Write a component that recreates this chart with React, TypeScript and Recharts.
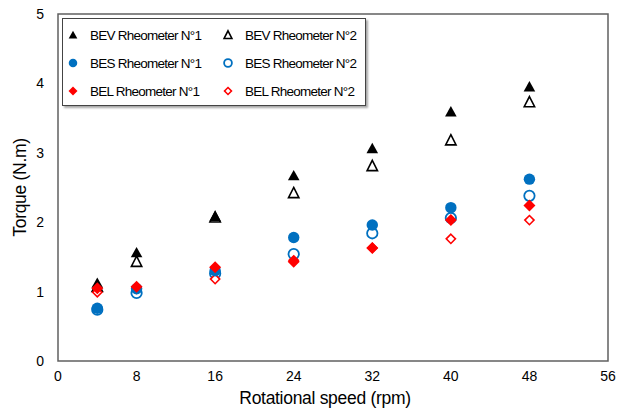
import { ScatterChart, Scatter, XAxis, YAxis, ReferenceArea } from 'recharts'

// rotational speed (rpm) for every series
const speeds = [4, 8, 16, 24, 32, 40, 48]
const bev1 = [1.12, 1.56, 2.08, 2.67, 3.06, 3.59, 3.95]
const bev2 = [1.07, 1.43, 2.07, 2.42, 2.81, 3.18, 3.73]
const bes1 = [0.76, 1.04, 1.3, 1.78, 1.96, 2.21, 2.62]
const bes2 = [0.74, 0.98, 1.26, 1.54, 1.84, 2.06, 2.38]
const bel1 = [1.05, 1.07, 1.35, 1.43, 1.63, 2.03, 2.24]
const bel2 = [0.99, 1.04, 1.18, 1.45, 1.63, 1.76, 2.03]
const xTicks = [0, 8, 16, 24, 32, 40, 48, 56]
const yTicks = [0, 1, 2, 3, 4, 5]

const FONT = '"Liberation Sans", Arial, sans-serif'
const BLUE = '#0070C0'
const RED = '#FF0000'

type Kind = 'tri' | 'circle' | 'diamond'

interface SeriesDef {
  name: string
  values: number[]
  kind: Kind
  color: string
  filled: boolean
}

const series: SeriesDef[] = [
  { name: 'BEV Rheometer N\u00B01', values: bev1, kind: 'tri', color: '#000', filled: true },
  { name: 'BEV Rheometer N\u00B02', values: bev2, kind: 'tri', color: '#000', filled: false },
  { name: 'BES Rheometer N\u00B01', values: bes1, kind: 'circle', color: BLUE, filled: true },
  { name: 'BES Rheometer N\u00B02', values: bes2, kind: 'circle', color: BLUE, filled: false },
  { name: 'BEL Rheometer N\u00B01', values: bel1, kind: 'diamond', color: RED, filled: true },
  { name: 'BEL Rheometer N\u00B02', values: bel2, kind: 'diamond', color: RED, filled: false },
]

// hollow markers sit underneath the filled ones
const drawOrder = [...series.filter(s => !s.filled), ...series.filter(s => s.filled)]

function Marker({ cx, cy, kind, color, filled, scale = 1 }: { cx: number; cy: number; kind: Kind; color: string; filled: boolean; scale?: number }) {
  const fill = filled ? color : '#fff'
  const sw = filled ? 0 : 1.6
  if (kind === 'tri') {
    const up = (filled ? 5.8 : 5.6) * scale
    const down = 4.6 * scale
    const w = (filled ? 5.8 : 5.2) * scale
    return <path d={`M${cx},${cy - up} L${cx + w},${cy + down} L${cx - w},${cy + down} Z`} fill={fill} stroke={color} strokeWidth={sw} />
  }
  if (kind === 'circle') {
    return <circle cx={cx} cy={cy} r={(filled ? 5.7 : 5.2) * scale} fill={fill} stroke={color} strokeWidth={filled ? 0 : 1.8} />
  }
  const r = (filled ? 6 : 4.6) * scale
  return <path d={`M${cx},${cy - r} L${cx + r},${cy} L${cx},${cy + r} L${cx - r},${cy} Z`} fill={fill} stroke={color} strokeWidth={sw} />
}

function LegendBox() {
  return (
    <div style={{
      position: 'absolute', left: 62, top: 18,
      border: '1px solid #444', background: '#fff', boxShadow: '2px 2px 2px rgba(0,0,0,0.35)',
      width: 304, height: 88, boxSizing: 'border-box', fontFamily: FONT, fontSize: 13.5, color: '#000',
      letterSpacing: -0.75, whiteSpace: 'nowrap',
      display: 'grid', gridTemplateColumns: '156px 146px', gridAutoRows: 28, paddingTop: 2,
    }}>
      {series.map(s => (
        <div key={s.name} style={{ display: 'flex', alignItems: 'center' }}>
          <svg width={24} height={20} style={{ marginLeft: s.filled ? 0 : -4 }}>
            <Marker cx={s.filled ? 10 : 13} cy={10} kind={s.kind} color={s.color} filled={s.filled} scale={0.75} />
          </svg>
          <span style={{ marginLeft: s.filled ? 3 : 6 }}>{s.name}</span>
        </div>
      ))}
    </div>
  )
}

export default function App() {
  return (
    <div style={{ position: 'absolute', left: 0, top: 0, width: 626, height: 410, background: '#fff' }}>
      <ScatterChart width={626} height={410} margin={{ top: 14, right: 18, bottom: 0, left: 0 }}>
        <XAxis
          type="number"
          dataKey="x"
          domain={[0, 56]}
          ticks={xTicks}
          tickLine={false}
          axisLine={false}
          tickMargin={4}
          height={49}
          tick={{ fontSize: 14, fontFamily: FONT, fill: '#000' }}
          label={{ value: 'Rotational speed (rpm)', position: 'insideBottom', offset: 6, dx: -8, style: { fontSize: 17.5, fontFamily: FONT, fill: '#000', letterSpacing: -0.3 } }}
        />
        <YAxis
          type="number"
          dataKey="y"
          domain={[0, 5]}
          ticks={yTicks}
          tickLine={false}
          axisLine={false}
          tickMargin={8}
          width={58}
          tick={{ fontSize: 14, fontFamily: FONT, fill: '#000' }}
          label={{ value: 'Torque (N.m)', angle: -90, position: 'insideLeft', offset: 20, style: { fontSize: 17.5, fontFamily: FONT, fill: '#000', textAnchor: 'middle', letterSpacing: -0.3 } }}
        />
        <ReferenceArea x1={0} x2={56} y1={0} y2={5} fill="none" stroke="#606060" strokeWidth={1.5} ifOverflow="visible" />
        {drawOrder.map(s => (
          <Scatter
            key={s.name}
            name={s.name}
            data={speeds.map((x, i) => ({ x, y: s.values[i] }))}
            isAnimationActive={false}
            shape={(p: any) => <Marker cx={p.cx} cy={p.cy} kind={s.kind} color={s.color} filled={s.filled} />}
          />
        ))}
      </ScatterChart>
      <LegendBox />
    </div>
  )
}
